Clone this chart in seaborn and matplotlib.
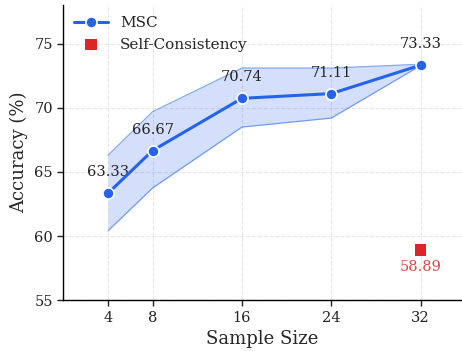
import matplotlib
matplotlib.use("Agg")
import matplotlib.pyplot as plt
import seaborn as sns
import pandas as pd

sample_sizes = [4, 8, 16, 24, 32]
msc_acc = [63.33, 66.67, 70.74, 71.11, 73.33]
msc_low = [60.4, 63.75, 68.5, 69.2, 73.3]
msc_high = [66.3, 69.7, 73.1, 73.1, 73.4]
sc_size = [32]
sc_acc = [58.89]
yticks = [55, 60, 65, 70, 75]

sns.set_theme(style="ticks")
plt.rcParams['font.family'] = ['DejaVu Serif']

blue = "#2563EB"
red = "#DC2626"

fig, ax = plt.subplots(figsize=(4.62, 3.51), dpi=100)

df = pd.DataFrame({"size": sample_sizes, "acc": msc_acc})
ax.fill_between(sample_sizes, msc_low, msc_high, color=blue, alpha=0.2, linewidth=0)
ax.plot(sample_sizes, msc_low, color=blue, alpha=0.55, linewidth=0.9)
ax.plot(sample_sizes, msc_high, color=blue, alpha=0.55, linewidth=0.9)
sns.lineplot(data=df, x="size", y="acc", ax=ax, color=blue, linewidth=2.2,
             marker="o", markersize=8, markeredgecolor="white", markeredgewidth=1.2,
             label="MSC", zorder=5)
sdf = pd.DataFrame({"size": sc_size, "acc": sc_acc})
sns.scatterplot(data=sdf, x="size", y="acc", ax=ax, color=red, marker="s", s=70,
                edgecolor="none", label="Self-Consistency", zorder=5)

for x, y in zip(sample_sizes, msc_acc):
    ax.annotate(f"{y:.2f}", (x, y), xytext=(0, 10), textcoords="offset points",
                ha="center", va="bottom", fontsize=10.5, color="#222222")
for x, y in zip(sc_size, sc_acc):
    ax.annotate(f"{y:.2f}", (x, y), xytext=(0, -7), textcoords="offset points",
                ha="center", va="top", fontsize=10.5, color="#E04545")

ax.set_xlim(0, 35.7)
ax.set_ylim(55, 78)
ax.set_xticks(sample_sizes)
ax.set_yticks(yticks)
ax.tick_params(labelsize=10.5, length=4, width=1, colors="#222222")
ax.set_xlabel("Sample Size", fontsize=13)
ax.set_ylabel("Accuracy (%)", fontsize=13)
ax.grid(True, linestyle="--", color="#e2e2e2", linewidth=0.8, alpha=0.8)
ax.set_axisbelow(True)
for s in ["top", "right"]:
    ax.spines[s].set_visible(False)
for s in ["left", "bottom"]:
    ax.spines[s].set_color("black")
    ax.spines[s].set_linewidth(1.0)

leg = ax.legend(loc="upper left", frameon=False, fontsize=11, handlelength=2.2,
                borderaxespad=0.3)

fig.subplots_adjust(left=0.137, right=1.0, top=0.985, bottom=0.145)
fig.savefig("out.png", dpi=100)
